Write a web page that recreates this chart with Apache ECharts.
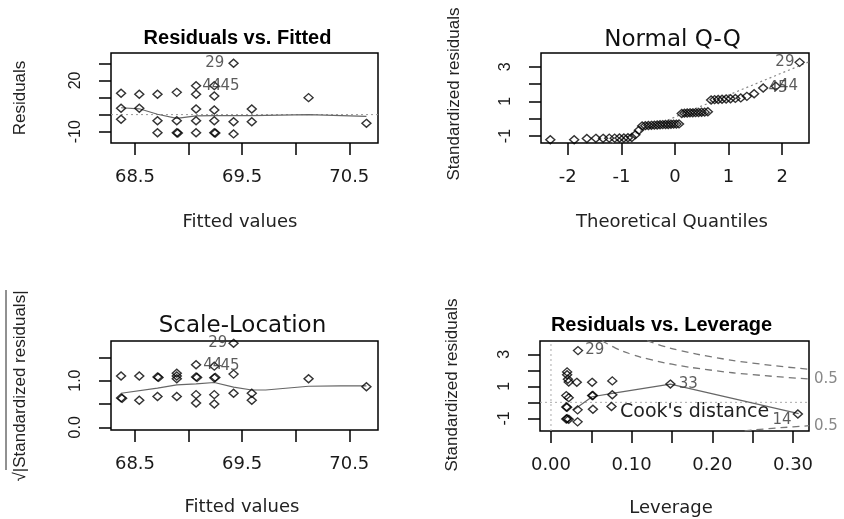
<!DOCTYPE html>
<html><head><meta charset="utf-8">
<script src="https://cdn.jsdelivr.net/npm/echarts@6/dist/echarts.min.js"></script>
<style>html,body{margin:0;padding:0;background:#fff}#c{width:844px;height:519px}</style>
</head><body><div id="c"></div>
<script>
// ---------- Panel 1: Residuals vs. Fitted ----------
const rvfFitted = [68.37,68.37,68.37, 68.54,68.54, 68.71,68.71,68.71, 68.89,68.89,68.89,68.90, 69.07,69.07,69.07,69.07,69.07, 69.24,69.24,69.24,69.24,69.24,69.25, 69.42,69.42,69.42, 69.59,69.59, 70.12, 70.66];
const rvfResid  = [12.5,3.7,-2.7, 11.9,3.7, 11.9,-3.6,-10.6, 13.0,-3.6,-10.6,-10.8, 16.9,11.9,3.3,-3.6,-10.6, 16.9,10.9,2.7,-3.6,-10.6,-10.8, 30.0,-4.2,-11.3, 3.3,-4.2, 9.9, -5.1];
const rvfIds = [[12,'44','right',1],[17,'45','right',1],[23,'29','left',4]];
const rvfSmoothX = [68.37,68.54,68.71,68.89,69.07,69.24,69.42,69.59,70.12,70.66];
const rvfSmoothY = [4.0,3.4,0.2,-2.2,-0.8,-0.6,-0.6,-0.6,0.0,-1.0];
const fitTicks = [68.5,69.0,69.5,70.0,70.5];
const fitLabels = [68.5,69.5,70.5];
const resTicks = [-10,0,10,20,30];
const resLabels = [-10,20];

// ---------- Panel 2: Normal Q-Q ----------
const qqTheo = [-2.326,-1.881,-1.645,-1.476,-1.341,-1.227,-1.126,-1.036,-0.954,-0.878,-0.806,-0.739,-0.674,-0.613,-0.553,-0.496,-0.440,-0.385,-0.332,-0.279,-0.228,-0.176,-0.126,-0.075,-0.025,
                0.025,0.075,0.126,0.176,0.228,0.279,0.332,0.385,0.440,0.496,0.553,0.613,0.674,0.739,0.806,0.878,0.954,1.036,1.126,1.227,1.341,1.476,1.645,1.881,2.326];
const qqStd  = [-1.21,-1.21,-1.14,-1.13,-1.13,-1.12,-1.12,-1.11,-1.11,-1.10,-1.08,-0.92,-0.67,-0.42,-0.40,-0.39,-0.38,-0.37,-0.36,-0.35,-0.34,-0.33,-0.33,-0.32,-0.31,
                -0.31,-0.30,0.30,0.32,0.33,0.34,0.34,0.35,0.36,0.37,0.38,0.40,1.08,1.10,1.11,1.12,1.14,1.15,1.17,1.20,1.29,1.44,1.77,1.87,3.25];
const qqIds = [[49,'29','left',0],[47,'45','right',0],[48,'44','right',-2]];
const qqLineX = [-1.17, 2.5];
const qqLineY = [-1.39, 3.28];
const qTicksX = [-2,-1,0,1,2];
const qTicksY = [-1,0,1,2,3];
const qLabelsY = [-1,1,3];

// ---------- Panel 3: Scale-Location ----------
const slFitted = [68.37,68.37,68.38, 68.54,68.54, 68.71,68.72,68.71, 68.89,68.89,68.89,68.89, 69.07,69.07,69.08,69.07,69.07, 69.24,69.24,69.25,69.24,69.24, 69.42,69.42,69.42, 69.59,69.59, 70.12, 70.66];
const slSqrt   = [1.10,0.63,0.62, 1.10,0.58, 1.08,1.07,0.66, 1.16,1.10,1.04,0.66, 1.34,1.08,1.07,0.70,0.52, 1.31,1.06,1.07,0.70,0.50, 1.80,1.14,0.73, 0.73,0.58, 1.04, 0.87];
const slIds = [[12,'44','right',2],[17,'45','right',1],[22,'29','left',1]];
const slSmoothX = [68.37,68.71,68.89,69.07,69.24,69.42,69.59,69.72,70.12,70.42,70.66];
const slSmoothY = [0.73,0.84,0.91,0.93,0.96,0.86,0.80,0.80,0.88,0.89,0.89];
const slTicks = [0,0.5,1.0,1.5];
const slLabels = [0,1.0];

// ---------- Panel 4: Residuals vs. Leverage ----------
const levH   = [0.0335, 0.020,0.020,0.021,0.022, 0.032, 0.051, 0.076, 0.148, 0.019,0.022, 0.051,0.052, 0.076, 0.019,0.020, 0.033, 0.052, 0.075, 0.019,0.020,0.022, 0.033, 0.306];
const levStd = [3.23, 1.90,1.72,1.44,1.27, 1.25, 1.25, 1.34, 1.14, 0.42,0.29, 0.42,0.43, 0.47, -0.29,-0.31, -0.47, -0.43, -0.26, -1.04,-1.02,-1.06, -1.22, -0.73];
const levIds = [[0,'29','right',2],[8,'33','right',3],[23,'14','left',1,[0,6]]];
const levSmoothX = [0.028,0.051,0.076,0.148,0.307];
const levSmoothY = [-0.48,0.35,0.56,1.14,-0.70];
const cook05UpX = [0.063,0.08,0.10,0.12,0.15,0.20,0.25,0.32];
const cook05UpY = [3.86,3.39,3.00,2.71,2.38,2.00,1.73,1.46];
const cook1UpX  = [0.119,0.14,0.16,0.20,0.25,0.32];
const cook1UpY  = [3.85,3.50,3.24,2.83,2.45,2.06];
const cook05LoX = [0.24,0.27,0.30,0.32];
const cook05LoY = [-1.78,-1.64,-1.53,-1.46];
const levTicks = [0,0.05,0.10,0.15,0.20,0.25,0.30];
const levLabels = [0,0.10,0.20,0.30];
const levYTicks = [-1,0,1,2,3];
const levYLabels = [-1,1,3];

// ---------- helpers ----------
const zip = (xs, ys) => xs.map((x, i) => [x, ys[i]]);
function pts(xs, ys, ids) {
  return xs.map((x, i) => {
    const d = { value: [x, ys[i]] };
    const l = ids.find(a => a[0] === i);
    if (l) d.label = { show: true, formatter: l[1], position: l[2], distance: l[3], offset: l[4] || [0, 0] };
    return d;
  });
}
const H = 'DejaVu Sans', V = 'Liberation Sans';
function xAx(g, min, max, ticks, labels, fmt) {
  return { type: 'value', gridIndex: g, min, max, position: 'bottom',
    axisLine: { show: false, onZero: false }, splitLine: { show: false },
    axisTick: { show: true, inside: false, length: 12, customValues: ticks, lineStyle: { color: '#000', width: 1.5 } },
    axisLabel: { customValues: labels, margin: 25, fontFamily: H, fontSize: 18, color: '#1a1a1a', formatter: fmt } };
}
function yAx(g, min, max, ticks, labels, fmt) {
  return { type: 'value', gridIndex: g, min, max, position: 'left',
    axisLine: { show: false, onZero: false }, splitLine: { show: false },
    axisTick: { show: true, inside: false, length: 12, customValues: ticks, lineStyle: { color: '#000', width: 1.5 } },
    axisLabel: { customValues: labels, rotate: 90, margin: 27, fontFamily: V, fontSize: 16, color: '#1a1a1a', formatter: fmt } };
}
const pointStyle = { symbol: 'diamond', symbolSize: [9, 8],
  itemStyle: { color: 'rgba(255,255,255,0)', borderColor: '#000', borderWidth: 1.4 },
  label: { show: false, fontFamily: H, fontSize: 15, color: '#333' } };
function scatter(g, data) { return Object.assign({ type: 'scatter', xAxisIndex: g, yAxisIndex: g, data, silent: true, z: 3 }, pointStyle); }
function line(g, data, color, type, width, smooth, z) {
  return { type: 'line', xAxisIndex: g, yAxisIndex: g, data, symbol: 'none', silent: true, smooth: !!smooth,
    lineStyle: { color, type, width }, z: z || 2 };
}
const grid = (left, top, width, height) => ({ left, top, width, height, show: true, borderColor: '#000', borderWidth: 1.5, backgroundColor: 'transparent' });
const txt = (x, y, text, font, fill, rot, align) => ({ type: 'text', x, y, rotation: rot || 0, silent: true,
  style: { text, font, fill: fill || '#111', align: align || 'center', verticalAlign: 'middle', textAlign: align || 'center', textVerticalAlign: 'middle' } });

const chart = echarts.init(document.getElementById('c'));
chart.setOption({
  animation: false,
  backgroundColor: '#fff',
  grid: [grid(111, 53, 267, 90), grid(541, 53, 268, 90), grid(111, 341, 267, 89), grid(540, 341, 269, 90)],
  xAxis: [
    xAx(0, 68.276, 70.768, fitTicks, fitLabels),
    xAx(1, -2.5, 2.5, qTicksX, qTicksX),
    xAx(2, 68.276, 70.768, fitTicks, fitLabels),
    xAx(3, -0.0136, 0.3198, levTicks, levLabels, v => v.toFixed(2))
  ],
  yAxis: [
    yAx(0, -16.6, 36.0, resTicks, resLabels),
    yAx(1, -1.40, 3.79, qTicksY, qLabelsY),
    yAx(2, -0.058, 1.85, slTicks, slLabels, v => v.toFixed(1)),
    yAx(3, -1.79, 3.83, levYTicks, levYLabels)
  ],
  series: [
    line(0, [[68.276, 0], [70.768, 0]], '#999', [2, 3], 1),
    line(0, zip(rvfSmoothX, rvfSmoothY), '#666', 'solid', 1.2),
    scatter(0, pts(rvfFitted, rvfResid, rvfIds)),

    line(1, zip(qqLineX, qqLineY), '#888', [2, 3], 1.2),
    scatter(1, pts(qqTheo, qqStd, qqIds)),

    line(2, zip(slSmoothX, slSmoothY), '#666', 'solid', 1.2),
    scatter(2, pts(slFitted, slSqrt, slIds)),

    line(3, [[-0.0136, 0], [0.3198, 0]], '#aaa', [2, 3], 1),
    line(3, [[0, -1.79], [0, 3.83]], '#aaa', [2, 3], 1),
    line(3, zip(cook05UpX, cook05UpY), '#777', [7, 5], 1.3, true),
    line(3, zip(cook1UpX, cook1UpY), '#777', [7, 5], 1.3, true),
    line(3, zip(cook05LoX, cook05LoY), '#777', [7, 5], 1.3, true),
    line(3, zip(levSmoothX, levSmoothY), '#666', 'solid', 1.2),
    scatter(3, pts(levH, levStd, levIds))
  ],
  graphic: [
    txt(237.5, 38, 'Residuals vs. Fitted', 'bold 20px "Liberation Sans"', '#000'),
    txt(672.5, 40, 'Normal Q-Q', '23px "DejaVu Sans"', '#111'),
    txt(242.5, 326, 'Scale-Location', '23px "DejaVu Sans"', '#111'),
    txt(661.5, 325, 'Residuals vs. Leverage', 'bold 20px "Liberation Sans"', '#000'),

    txt(240, 222, 'Fitted values', '18px "DejaVu Sans"', '#222'),
    txt(672, 222, 'Theoretical Quantiles', '18px "DejaVu Sans"', '#222'),
    txt(242, 507, 'Fitted values', '18px "DejaVu Sans"', '#222'),
    txt(671, 508, 'Leverage', '18px "DejaVu Sans"', '#222'),

    txt(20, 98, 'Residuals', '17px "Liberation Sans"', '#222', Math.PI / 2),
    txt(454, 94, 'Standardized residuals', '17px "Liberation Sans"', '#222', Math.PI / 2),
    txt(20, 386, '\u221A|Standardized residuals|', '17px "Liberation Sans"', '#222', Math.PI / 2),
    { type: 'line', silent: true, shape: { x1: 6, y1: 290, x2: 6, y2: 470 }, style: { stroke: '#222', lineWidth: 1 } },
    txt(452, 385, 'Standardized residuals', '17px "Liberation Sans"', '#222', Math.PI / 2),

    txt(620, 412, "Cook's distance", '19px "DejaVu Sans"', '#222', 0, 'left'),
    txt(814, 379, '0.5', '15px "DejaVu Sans"', '#888', 0, 'left'),
    txt(814, 426, '0.5', '15px "DejaVu Sans"', '#888', 0, 'left')
  ]
});
</script></body></html>
